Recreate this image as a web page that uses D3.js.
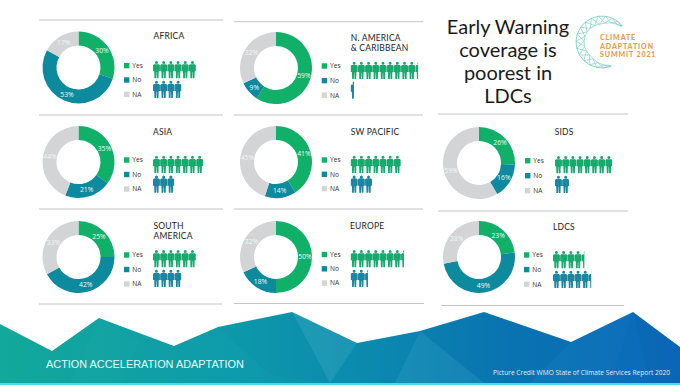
<!DOCTYPE html>
<html><head><meta charset="utf-8">
<script src="https://cdn.jsdelivr.net/npm/d3@7/dist/d3.min.js"></script>
<style>html,body{margin:0;padding:0;background:#fff}svg{display:block}</style>
</head><body><svg id="c" width="680" height="385"></svg>
<script>
const regions = ["AFRICA","N. AMERICA|& CARIBBEAN","ASIA","SW PACIFIC","SIDS","SOUTH|AMERICA","EUROPE","LDCS"];
const yesPct = [30,59,35,41,26,25,50,23];
const noPct  = [53,9,21,14,16,42,18,49];
const naPct  = [17,32,44,45,59,33,32,28];
const yesPeople = [6,9.4,7,7,8,6,7.45,4.4];
const noPeople  = [4,0.5,3,3,2,4,2.45,5.35];
const legendLabels = ["Yes","No","NA"];
const titleLines = ["Early Warning","coverage is","poorest in","LDCs"];
const logoLines = ["CLIMATE","ADAPTATION","SUMMIT 2021"];
const footerLeft = "ACTION ACCELERATION ADAPTATION";
const footerRight = "Picture Credit WMO State of Climate Services Report 2020";

// layout
const donutX = [78.5,276,78.5,276,479,78.5,276,479];
const donutY = [67.5,68,162,162,163,257,257,257];
const legendX = [124,321.7,124,321.7,525,124,321.7,524];
const legendY = [65.6,66,160,160,160.7,255,254.5,255];
const legendStep = [14.4,14.6,14.5,14.3,15,14.5,14.3,14.6];
const peopleX = [153,350.7,153,350.7,555,153,350.7,553];
const peopleY = [61,61.7,155.7,155.7,156,250,250,251];
const titleX = [153.5,350.7,153,350.7,554.7,153.5,350,553];
const titleY = [39,40.5,134.6,134.7,134.7,229,229,230];
const rules = [[39,223,20],[39,223,115],[39,223,209],[39,222,304],
               [234,423,21.7],[234,423,115],[234,423,209],[234,424,303.5],
               [438,628,114],[438,628,211],[441,624,305.5]];
const ridgeX = [0,52,99,174,218,292,357,420,484,571,633,680];
const ridgeY = [324,351,318,346,327,312,343,331,312,342,312,347];
const facets = [
 [[99,318],[70,383],[120,383],[140,340]],
 [[218,327],[292,312],[330,383],[270,375]],
 [[292,312],[357,343],[330,383]],
 [[357,343],[420,331],[395,383],[330,383]],
 [[420,331],[484,383],[395,383]],
 [[484,312],[571,342],[530,383],[484,383],[420,331]],
 [[571,342],[633,312],[610,383],[530,383]],
 [[633,312],[680,347],[680,383],[650,383]]
];
const facetAlpha = [.015,.03,.07,.015,.05,.06,.015,.05];
const colors = {yes:"#10b069",no:"#0e8a9e",na:"#d3d4d6"};
const peopleColors = {yes:"#17a96e",no:"#1a86a0"};
const fill = [colors.yes,colors.no,colors.na];

const svg = d3.select("#c");
const defs = svg.append("defs");
const g = defs.append("linearGradient").attr("id","grad").attr("x1",0).attr("x2",1).attr("y1",0).attr("y2",0);
[["0%","#12a89a"],["35%","#0e9bac"],["55%","#0c8bb0"],["75%","#0a78b5"],["100%","#0b68ba"]].forEach(s=>g.append("stop").attr("offset",s[0]).attr("stop-color",s[1]));

// rules
svg.append("g").selectAll("line").data(rules).join("line")
 .attr("x1",d=>d[0]).attr("x2",d=>d[1]).attr("y1",d=>d[2]).attr("y2",d=>d[2])
 .attr("stroke","#c4c4c8").attr("stroke-width",1);

function personPath(){
  const p = d3.path();
  p.moveTo(3.45,0); p.arc(3.45,1.5,1.5,-Math.PI/2,1.5*Math.PI);
  p.moveTo(1,3.2); p.lineTo(5.9,3.2); p.lineTo(6.9,4.2); p.lineTo(6.9,10.3); p.lineTo(5.7,10.3);
  p.lineTo(5.5,17.3); p.lineTo(3.8,17.3); p.lineTo(3.6,11); p.lineTo(3.3,11); p.lineTo(3.1,17.3);
  p.lineTo(1.4,17.3); p.lineTo(1.2,10.3); p.lineTo(0,10.3); p.lineTo(0,4.2); p.closePath();
  return p.toString();
}

// donuts
const pie = d3.pie().sort(null);
const arc = d3.arc().innerRadius(22).outerRadius(36);
regions.forEach((name,i)=>{
  const cell = svg.append("g").attr("class","region");
  const vals = [yesPct[i],noPct[i],naPct[i]];
  const dg = cell.append("g").attr("transform",`translate(${donutX[i]},${donutY[i]})`);
  const arcs = pie(vals);
  dg.selectAll("path").data(arcs).join("path").attr("d",arc).attr("fill",(d,k)=>fill[k]);
  dg.selectAll("text").data(arcs).join("text")
    .attr("transform",d=>`translate(${arc.centroid(d)})`)
    .attr("text-anchor","middle").attr("dy","0.35em")
    .attr("font-family","'Open Sans'").attr("font-size",6.8).attr("fill","#eafaf5")
    .text(d=>d.value+"%");

  // title
  const t = cell.append("text").attr("font-family","Lato").attr("font-size",8.5).attr("letter-spacing",0.2).attr("fill","#222");
  name.split("|").forEach((l,k)=>t.append("tspan").attr("x",titleX[i]).attr("y",titleY[i]+k*10.2).text(l));

  // legend
  const lg = cell.append("g");
  legendLabels.forEach((l,k)=>{
    const y = legendY[i]+k*legendStep[i];
    lg.append("rect").attr("x",legendX[i]).attr("y",y-2.7).attr("width",5.4).attr("height",5.4).attr("fill",fill[k]);
    lg.append("text").attr("x",legendX[i]+8.3).attr("y",y).attr("dy","0.35em")
      .attr("font-family","'Open Sans'").attr("font-size",6.6).attr("fill","#333").text(l);
  });

  // people
  const px = d3.scaleLinear().domain([0,1]).range([peopleX[i],peopleX[i]+7.2]);
  [[yesPeople[i],peopleColors.yes,peopleY[i]],[noPeople[i],peopleColors.no,peopleY[i]+19.7]].forEach((row,r)=>{
    const id = `clip${i}_${r}`;
    defs.append("clipPath").attr("id",id).append("rect")
      .attr("x",px(0)-0.3).attr("y",row[2]-1).attr("height",20)
      .attr("width",px(row[0])-px(0));
    cell.append("g").attr("clip-path",`url(#${id})`)
      .selectAll("path").data(d3.range(Math.ceil(row[0]))).join("path")
      .attr("transform",d=>`translate(${px(d)},${row[2]})`)
      .attr("fill",row[1]).attr("d",personPath);
  });
});

// headline
svg.append("g").selectAll("text").data(titleLines).join("text")
 .attr("x",508).attr("y",(d,i)=>33.5+i*23.2).attr("text-anchor","middle")
 .attr("font-family","Lato").attr("font-size",20).attr("fill","#1a1a1a").text(d=>d);

// logo
const logoAngles = [52,38,24,8,-8,-24,-40,-56,-72,-88,-104,-120,-136,-152,-168,-184,-200];
const logoInner  = [25,23,21,19,18,18,18,18,18,18,18,18,18,19,21,23,25];
const logoG = svg.append("g").attr("transform","translate(602,42)").attr("fill","none").attr("stroke","#6ccac4").attr("stroke-width",.6);
const radial = d3.lineRadial().angle(d=>d[0]*Math.PI/180).radius(d=>d[1]);
logoG.append("path").attr("d",radial(logoAngles.map(a=>[a,26]))).attr("stroke-width",.8);
logoG.append("path").attr("d",radial(logoAngles.map((a,i)=>[a,logoInner[i]])));
logoG.append("path").attr("d",radial(logoAngles.map((a,i)=>[a,i%2?logoInner[i]:26])));
logoG.append("path").attr("d",radial(logoAngles.map((a,i)=>[a,i%2?26:logoInner[i]])));
svg.append("g").selectAll("text").data(logoLines).join("text")
 .attr("x",600).attr("y",(d,i)=>40+i*8.5)
 .attr("font-family","Lato").attr("font-weight",900).attr("font-size",7).attr("letter-spacing",0.9).attr("fill","#e59c4c").text(d=>d);

// footer band
const ridge = ridgeX.map((x,i)=>[x,ridgeY[i]]);
svg.append("path").attr("d",d3.line()([...ridge,[680,383],[0,383]])+"Z").attr("fill","url(#grad)");
svg.append("g").selectAll("path").data(facets).join("path")
 .attr("d",d=>d3.line()(d)+"Z").attr("fill",(d,i)=>i%2?"#083a7a":"#ffffff").attr("fill-opacity",(d,i)=>facetAlpha[i]);
svg.append("rect").attr("x",0).attr("y",383).attr("width",680).attr("height",2).attr("fill","#45dfe6");
svg.append("text").attr("x",46).attr("y",368).attr("font-family","'Liberation Sans'").attr("font-size",10.9).attr("fill","#e6fbfb").text(footerLeft);
svg.append("text").attr("x",493).attr("y",375).attr("font-family","'Open Sans'").attr("font-size",6.6).attr("fill","#dff1f8").text(footerRight);
</script></body></html>
